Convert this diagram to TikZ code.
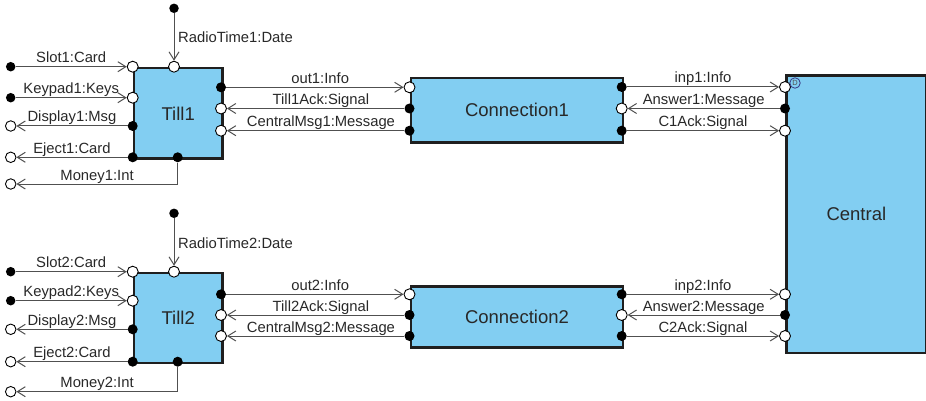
\documentclass[tikz,border=0pt]{standalone}
\usepackage{fontspec}
\setmainfont{Liberation Sans}
\usetikzlibrary{arrows.meta}
\definecolor{boxfill}{RGB}{130,206,242}
\definecolor{conngray}{RGB}{80,80,80}
\definecolor{txtgray}{RGB}{40,40,40}
\tikzset{
  blk/.style={draw=black!88, line width=2.7pt, fill=boxfill, anchor=north west, inner sep=0pt,
              font=\fontsize{18.5}{20}\selectfont, text=txtgray},
  inport/.style={circle, draw=black, fill=white, line width=0.9pt, inner sep=0pt, minimum size=11pt},
  outport/.style={circle, fill=black, inner sep=0pt, minimum size=10pt},
  termin/.style={circle, fill=black, inner sep=0pt, minimum size=9.5pt},
  termout/.style={circle, draw=black, fill=white, line width=0.9pt, inner sep=0pt, minimum size=10.5pt},
  conn/.style={draw=conngray, line width=1pt, -{Straight Barb[length=8pt,width=10pt,line width=1pt]}},
  lbl/.style={font=\fontsize{14.8}{16}\selectfont, text=txtgray, anchor=base, inner sep=0pt, yshift=4pt},
  dmark/.style={circle, draw=conngray!70!blue, fill=boxfill, line width=0.8pt, inner sep=0pt,
                minimum size=10.5pt, font=\fontsize{7.5}{8}\selectfont, text=conngray}
}
\begin{document}
\begin{tikzpicture}[x=1pt,y=-1pt]
\useasboundingbox (0,0) rectangle (926,401);

% ---------- boxes ----------
\node[blk, minimum width=88.3pt, minimum height=90.6pt] (till1) at (132.7,66.7) {Till1};
\node[blk, minimum width=88.3pt, minimum height=90pt] (till2) at (132.7,271.7) {Till2};
\node[blk, minimum width=212.2pt, minimum height=64.3pt] (con1) at (409.5,76.7) {Connection1};
\node[blk, minimum width=212.2pt, minimum height=61pt] (con2) at (409.5,285) {Connection2};
\node[blk, minimum width=140pt, minimum height=277pt] (central) at (785,74.5) {Central};

% ---------- Till1 ports ----------
\node[inport]  (t1rt)  at (174,66.7) {};
\node[inport]  (t1slot) at (132.7,66.7) {};
\node[inport]  (t1key)  at (132.7,97.7) {};
\node[outport] (t1disp) at (132.7,126) {};
\node[outport] (t1ej)   at (132.7,157.3) {};
\node[outport] (t1mon)  at (177.7,157.3) {};
\node[outport] (t1out)  at (221,87.3) {};
\node[inport]  (t1ack)  at (221,108.5) {};
\node[inport]  (t1cm)   at (221,130.7) {};

% terminals Till1
\node[termin]  (rt1src)  at (174,8.3) {};
\node[termin]  (slot1src) at (10.7,66.7) {};
\node[termin]  (key1src)  at (10.7,97.7) {};
\node[termout] (disp1dst) at (10.7,126) {};
\node[termout] (ej1dst)   at (10.7,157.3) {};
\node[termout] (mon1dst)  at (10.7,184) {};
\coordinate (mon1bend) at (177.7,184);

% ---------- Connection1 ports ----------
\node[inport]  (c1lout) at (409.5,87.3) {};
\node[outport] (c1lack) at (409.5,108.5) {};
\node[outport] (c1lcm)  at (409.5,130.7) {};
\node[outport] (c1rinp) at (621.7,87) {};
\node[inport]  (c1rans) at (621.7,108.5) {};
\node[outport] (c1rack) at (621.7,130.7) {};

% ---------- Central ports ----------
\node[inport]  (ceinp1) at (785,87) {};
\node[outport] (ceans1) at (785,108.5) {};
\node[inport]  (ceack1) at (785,130.7) {};
\node[inport]  (ceinp2) at (785,294.3) {};
\node[outport] (ceans2) at (785,315) {};
\node[inport]  (ceack2) at (785,336) {};
\node[dmark]   (dmk)    at (795,83) {D};

% ---------- Till2 ports ----------
\node[inport]  (t2rt)  at (174,271.7) {};
\node[inport]  (t2slot) at (132.7,271.7) {};
\node[inport]  (t2key)  at (132.7,300.7) {};
\node[outport] (t2disp) at (132.7,329.3) {};
\node[outport] (t2ej)   at (132.7,361.7) {};
\node[outport] (t2mon)  at (177.7,361.7) {};
\node[outport] (t2out)  at (221,294.3) {};
\node[inport]  (t2ack)  at (221,315) {};
\node[inport]  (t2cm)   at (221,336) {};

\node[termin]  (rt2src)  at (174,213.3) {};
\node[termin]  (slot2src) at (10.7,271.7) {};
\node[termin]  (key2src)  at (10.7,300.7) {};
\node[termout] (disp2dst) at (10.7,329.3) {};
\node[termout] (ej2dst)   at (10.7,361.7) {};
\node[termout] (mon2dst)  at (10.7,391.7) {};
\coordinate (mon2bend) at (177.7,391.7);

% ---------- Connection2 ports ----------
\node[inport]  (c2lout) at (409.5,294.3) {};
\node[outport] (c2lack) at (409.5,315) {};
\node[outport] (c2lcm)  at (409.5,336) {};
\node[outport] (c2rinp) at (621.7,294.3) {};
\node[inport]  (c2rans) at (621.7,315) {};
\node[outport] (c2rack) at (621.7,336) {};

% ---------- connectors, upper ----------
\draw[conn] (rt1src) -- (t1rt);
\node[font=\fontsize{14.8}{16}\selectfont, text=txtgray, anchor=base west, inner sep=0pt] (rt1lbl) at (178,43) {RadioTime1:Date};
\draw[conn] (slot1src) -- node[lbl] {Slot1:Card} (t1slot);
\draw[conn] (key1src) -- node[lbl] {Keypad1:Keys} (t1key);
\draw[conn] (t1disp) -- node[lbl] {Display1:Msg} (disp1dst);
\draw[conn] (t1ej) -- node[lbl] {Eject1:Card} (ej1dst);
\draw[conn] (t1mon) -- (mon1bend) -- node[lbl, pos=0.5] {Money1:Int} (mon1dst);

\draw[conn] (t1out) -- node[lbl, pos=0.53] {out1:Info} (c1lout);
\draw[conn] (c1lack) -- node[lbl, pos=0.47] {Till1Ack:Signal} (t1ack);
\draw[conn] (c1lcm) -- node[lbl, pos=0.47] {CentralMsg1:Message} (t1cm);

\draw[conn] (c1rinp) -- node[lbl] {inp1:Info} (ceinp1);
\draw[conn] (ceans1) -- node[lbl] {Answer1:Message} (c1rans);
\draw[conn] (c1rack) -- node[lbl] {C1Ack:Signal} (ceack1);

% ---------- connectors, lower ----------
\draw[conn] (rt2src) -- (t2rt);
\node[font=\fontsize{14.8}{16}\selectfont, text=txtgray, anchor=base west, inner sep=0pt] (rt2lbl) at (178,248) {RadioTime2:Date};
\draw[conn] (slot2src) -- node[lbl] {Slot2:Card} (t2slot);
\draw[conn] (key2src) -- node[lbl] {Keypad2:Keys} (t2key);
\draw[conn] (t2disp) -- node[lbl] {Display2:Msg} (disp2dst);
\draw[conn] (t2ej) -- node[lbl] {Eject2:Card} (ej2dst);
\draw[conn] (t2mon) -- (mon2bend) -- node[lbl, pos=0.5] {Money2:Int} (mon2dst);

\draw[conn] (t2out) -- node[lbl, pos=0.53] {out2:Info} (c2lout);
\draw[conn] (c2lack) -- node[lbl, pos=0.47] {Till2Ack:Signal} (t2ack);
\draw[conn] (c2lcm) -- node[lbl, pos=0.47] {CentralMsg2:Message} (t2cm);

\draw[conn] (c2rinp) -- node[lbl] {inp2:Info} (ceinp2);
\draw[conn] (ceans2) -- node[lbl] {Answer2:Message} (c2rans);
\draw[conn] (c2rack) -- node[lbl] {C2Ack:Signal} (ceack2);
\end{tikzpicture}
\end{document}
